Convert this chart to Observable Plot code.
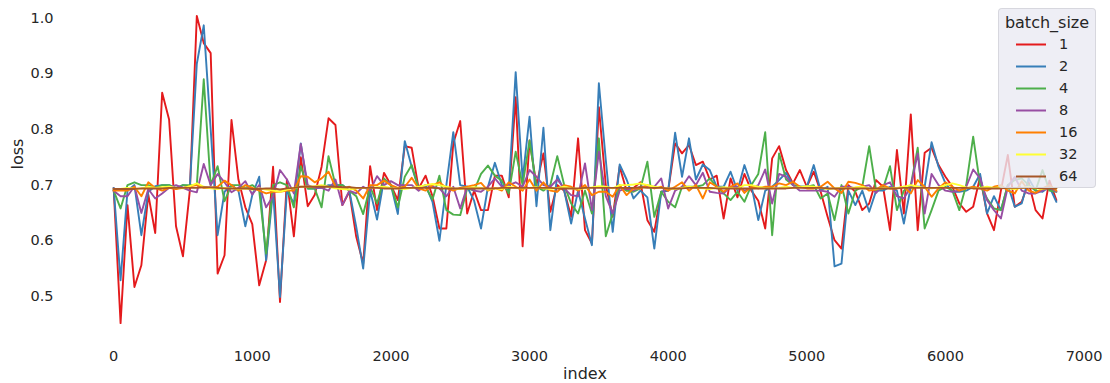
<!DOCTYPE html>
<html><head><meta charset="utf-8">
<script src="https://cdn.jsdelivr.net/npm/d3@7"></script>
<script src="https://cdn.jsdelivr.net/npm/@observablehq/plot@0.6"></script>
<style>
html,body{margin:0;padding:0;background:#fff;}
#wrap{position:relative;width:1110px;height:383px;font-family:"DejaVu Sans",sans-serif;color:#262626;}
#legend{position:absolute;left:998px;top:8px;width:98px;height:180px;box-sizing:border-box;background:rgba(234,234,242,0.8);border:1px solid rgba(210,210,216,0.8);border-radius:4px;}
#legend .title{position:absolute;left:0;width:100%;top:3px;text-align:center;font-size:16px;line-height:22px;}
#legend .row{position:absolute;left:0;height:22px;width:100%;}
#legend .row svg{position:absolute;left:17px;top:10px;}
#legend .row span{position:absolute;left:60px;top:0;font-size:14.5px;line-height:22px;}
</style></head><body><div id="wrap"></div>
<script>
const batchSizes = ["1","2","4","8","16","32","64"];
const palette = ["#e41a1c","#377eb8","#4daf4a","#984ea3","#ff7f00","#ffff33","#a65628"];
const indexStep = 50;
const xTicks = [0,1000,2000,3000,4000,5000,6000,7000];
const yTicks = [0.5,0.6,0.7,0.8,0.9,1.0];

const loss1 = [
0.695,0.452,0.664,0.517,0.556,0.683,0.614,0.866,0.818,0.626,
0.572,0.691,1.004,0.955,0.937,0.541,0.574,0.817,0.71,0.66,
0.63,0.52,0.565,0.733,0.49,0.71,0.608,0.75,0.662,0.682,
0.733,0.82,0.808,0.664,0.688,0.607,0.559,0.734,0.655,0.722,
0.70,0.673,0.77,0.767,0.694,0.717,0.68,0.622,0.622,0.775,
0.815,0.649,0.69,0.655,0.655,0.717,0.717,0.678,0.858,0.59,
0.78,0.70,0.757,0.652,0.70,0.69,0.643,0.784,0.619,0.595,
0.84,0.70,0.643,0.733,0.69,0.695,0.705,0.637,0.616,0.688,
0.69,0.775,0.757,0.772,0.736,0.742,0.71,0.717,0.64,0.712,
0.678,0.72,0.69,0.672,0.622,0.748,0.77,0.727,0.703,0.727,
0.697,0.724,0.688,0.643,0.601,0.586,0.70,0.688,0.655,0.667,
0.709,0.697,0.619,0.763,0.649,0.827,0.619,0.758,0.767,0.736,
0.715,0.697,0.667,0.652,0.661,0.715,0.649,0.619,0.69,0.754,
0.661,0.67,0.705,0.655,0.64,0.708,0.673];
const loss2 = [
0.695,0.529,0.69,0.70,0.61,0.688,0.698,0.70,0.70,0.693,
0.70,0.698,0.918,0.987,0.80,0.61,0.688,0.70,0.69,0.626,
0.682,0.715,0.565,0.69,0.499,0.69,0.667,0.775,0.694,0.694,
0.695,0.70,0.70,0.70,0.69,0.625,0.55,0.69,0.638,0.71,
0.70,0.648,0.779,0.733,0.694,0.70,0.67,0.60,0.70,0.795,
0.70,0.697,0.672,0.622,0.697,0.74,0.70,0.69,0.903,0.71,
0.823,0.662,0.803,0.619,0.717,0.69,0.631,0.69,0.64,0.592,
0.883,0.745,0.616,0.737,0.71,0.676,0.69,0.678,0.586,0.688,
0.69,0.794,0.715,0.784,0.71,0.737,0.727,0.697,0.697,0.724,
0.69,0.736,0.70,0.637,0.69,0.697,0.709,0.722,0.70,0.697,
0.697,0.736,0.69,0.697,0.554,0.559,0.69,0.664,0.69,0.652,
0.69,0.69,0.697,0.69,0.631,0.697,0.697,0.697,0.777,0.733,
0.703,0.688,0.688,0.69,0.697,0.72,0.649,0.68,0.655,0.70,
0.661,0.667,0.712,0.69,0.688,0.697,0.67];
const loss4 = [
0.69,0.658,0.70,0.705,0.70,0.70,0.695,0.70,0.70,0.695,
0.70,0.70,0.70,0.89,0.70,0.734,0.671,0.70,0.70,0.695,
0.70,0.69,0.577,0.70,0.705,0.70,0.66,0.734,0.694,0.694,
0.66,0.752,0.70,0.70,0.69,0.68,0.648,0.697,0.667,0.712,
0.70,0.66,0.715,0.736,0.694,0.697,0.674,0.717,0.655,0.647,
0.646,0.694,0.69,0.72,0.735,0.717,0.708,0.685,0.76,0.70,
0.78,0.697,0.69,0.70,0.752,0.70,0.667,0.649,0.69,0.649,
0.784,0.608,0.649,0.697,0.69,0.688,0.694,0.742,0.643,0.688,
0.67,0.66,0.697,0.697,0.697,0.70,0.712,0.697,0.685,0.673,
0.688,0.67,0.70,0.72,0.795,0.61,0.757,0.71,0.70,0.697,
0.697,0.70,0.676,0.685,0.637,0.70,0.649,0.69,0.697,0.77,
0.69,0.694,0.734,0.655,0.69,0.70,0.767,0.622,0.655,0.69,
0.697,0.69,0.655,0.70,0.787,0.70,0.676,0.658,0.655,0.70,
0.709,0.712,0.70,0.69,0.727,0.69,0.688];
const loss8 = [
0.69,0.68,0.68,0.698,0.65,0.693,0.676,0.685,0.695,0.70,
0.695,0.69,0.687,0.738,0.70,0.72,0.705,0.687,0.695,0.707,
0.683,0.70,0.66,0.68,0.727,0.71,0.685,0.774,0.70,0.695,
0.695,0.69,0.71,0.664,0.69,0.685,0.697,0.69,0.716,0.70,
0.707,0.70,0.70,0.70,0.69,0.70,0.697,0.694,0.68,0.697,
0.658,0.697,0.69,0.688,0.697,0.712,0.697,0.70,0.705,0.697,
0.727,0.715,0.70,0.697,0.71,0.694,0.682,0.68,0.739,0.655,
0.76,0.68,0.649,0.69,0.694,0.69,0.697,0.697,0.697,0.712,
0.658,0.69,0.697,0.716,0.70,0.722,0.688,0.686,0.685,0.697,
0.697,0.69,0.694,0.70,0.728,0.667,0.72,0.715,0.70,0.69,
0.69,0.69,0.69,0.688,0.679,0.697,0.697,0.694,0.697,0.70,
0.686,0.70,0.705,0.68,0.676,0.697,0.757,0.649,0.72,0.70,
0.69,0.688,0.69,0.697,0.728,0.712,0.673,0.655,0.64,0.697,
0.715,0.69,0.685,0.685,0.69,0.697,0.688];
const loss16 = [
0.69,0.69,0.69,0.697,0.68,0.705,0.695,0.69,0.695,0.693,
0.695,0.698,0.70,0.695,0.695,0.697,0.708,0.70,0.69,0.70,
0.695,0.69,0.685,0.688,0.688,0.69,0.69,0.716,0.715,0.705,
0.712,0.724,0.697,0.693,0.697,0.69,0.676,0.70,0.70,0.708,
0.70,0.695,0.697,0.713,0.694,0.69,0.70,0.705,0.695,0.69,
0.695,0.697,0.70,0.704,0.69,0.695,0.69,0.705,0.697,0.69,
0.71,0.69,0.705,0.69,0.688,0.70,0.697,0.69,0.70,0.682,
0.688,0.688,0.679,0.70,0.682,0.694,0.694,0.70,0.694,0.697,
0.69,0.697,0.705,0.69,0.70,0.676,0.705,0.697,0.688,0.697,
0.703,0.686,0.697,0.694,0.697,0.697,0.703,0.70,0.706,0.697,
0.694,0.694,0.697,0.706,0.694,0.686,0.706,0.704,0.70,0.69,
0.692,0.70,0.694,0.694,0.697,0.685,0.709,0.697,0.679,0.694,
0.705,0.697,0.69,0.694,0.697,0.694,0.69,0.697,0.70,0.69,
0.685,0.707,0.69,0.686,0.694,0.70,0.69];
const loss32 = [
0.693,0.693,0.695,0.693,0.694,0.697,0.695,0.696,0.697,0.695,
0.694,0.698,0.703,0.697,0.694,0.693,0.695,0.694,0.693,0.694,
0.692,0.694,0.692,0.69,0.688,0.692,0.695,0.697,0.697,0.698,
0.70,0.697,0.694,0.693,0.692,0.694,0.695,0.695,0.696,0.697,
0.695,0.694,0.693,0.695,0.697,0.70,0.702,0.70,0.697,0.694,
0.693,0.695,0.696,0.695,0.692,0.694,0.693,0.697,0.695,0.694,
0.695,0.696,0.694,0.693,0.695,0.697,0.694,0.693,0.694,0.696,
0.698,0.697,0.694,0.70,0.70,0.701,0.703,0.70,0.697,0.695,
0.694,0.693,0.695,0.697,0.695,0.694,0.693,0.695,0.696,0.695,
0.694,0.70,0.70,0.697,0.695,0.694,0.695,0.697,0.695,0.696,
0.698,0.697,0.695,0.693,0.694,0.695,0.694,0.696,0.697,0.694,
0.693,0.695,0.694,0.695,0.697,0.70,0.697,0.695,0.694,0.696,
0.70,0.703,0.70,0.696,0.694,0.695,0.697,0.695,0.696,0.694,
0.693,0.695,0.697,0.694,0.693,0.695,0.694];
const loss64 = [
0.693,0.693,0.693,0.693,0.694,0.694,0.694,0.694,0.695,0.695,
0.695,0.695,0.695,0.696,0.696,0.695,0.694,0.694,0.694,0.694,
0.693,0.693,0.694,0.694,0.692,0.694,0.695,0.697,0.697,0.697,
0.697,0.697,0.697,0.696,0.696,0.695,0.695,0.695,0.695,0.694,
0.694,0.694,0.695,0.695,0.695,0.695,0.695,0.694,0.694,0.694,
0.694,0.694,0.694,0.694,0.694,0.694,0.695,0.695,0.695,0.695,
0.695,0.695,0.695,0.695,0.694,0.694,0.694,0.694,0.695,0.695,
0.695,0.695,0.695,0.695,0.695,0.695,0.696,0.695,0.695,0.695,
0.694,0.694,0.694,0.695,0.695,0.695,0.695,0.694,0.694,0.694,
0.694,0.694,0.694,0.694,0.694,0.694,0.694,0.694,0.695,0.695,
0.695,0.695,0.695,0.694,0.694,0.694,0.694,0.694,0.694,0.694,
0.694,0.694,0.694,0.694,0.695,0.695,0.695,0.695,0.695,0.695,
0.695,0.695,0.695,0.695,0.694,0.694,0.694,0.694,0.694,0.695,
0.695,0.695,0.695,0.695,0.694,0.694,0.694];

const seriesValues = [loss1, loss2, loss4, loss8, loss16, loss32, loss64];
const rows = [];
batchSizes.forEach((b, k) => {
  seriesValues[k].forEach((v, i) => rows.push({index: i * indexStep, loss: v, batch: b}));
});

const chart = Plot.plot({
  width: 1110, height: 383,
  marginLeft: 66, marginRight: 7, marginTop: 0, marginBottom: 45,
  style: {fontFamily: "'DejaVu Sans', sans-serif", fontSize: "14.5px", color: "#262626", background: "#fff", overflow: "visible"},
  x: {domain: [-340, 7140]},
  y: {domain: [0.4244, 1.0316]},
  color: {type: "ordinal", domain: batchSizes, range: palette},
  marks: [
    Plot.axisX(xTicks, {tickSize: 0, tickPadding: 12, label: null, tickFormat: d3.format("d")}),
    Plot.axisY(yTicks, {tickSize: 0, tickPadding: 13, label: null, tickFormat: d3.format(".1f")}),
    Plot.line(rows, {x: "index", y: "loss", z: "batch", stroke: "batch", strokeWidth: 1.9, strokeLinejoin: "round"}),
    Plot.text(["index"], {frameAnchor: "bottom", dy: 40, fontSize: 16, fill: "#262626"}),
    Plot.text(["loss"], {frameAnchor: "left", rotate: -90, dx: -49, fontSize: 16, fill: "#262626"})
  ]
});
const wrap = document.getElementById("wrap");
wrap.appendChild(chart);

const legend = document.createElement("div");
legend.id = "legend";
const title = document.createElement("div");
title.className = "title";
title.textContent = "batch_size";
legend.appendChild(title);
batchSizes.forEach((b, k) => {
  const row = document.createElement("div");
  row.className = "row";
  row.style.top = (24 + k * 22) + "px";
  row.innerHTML = `<svg width="30" height="3"><line x1="0" x2="30" y1="1.5" y2="1.5" stroke="${palette[k]}" stroke-width="2"/></svg><span>${b}</span>`;
  legend.appendChild(row);
});
wrap.appendChild(legend);
</script></body></html>
